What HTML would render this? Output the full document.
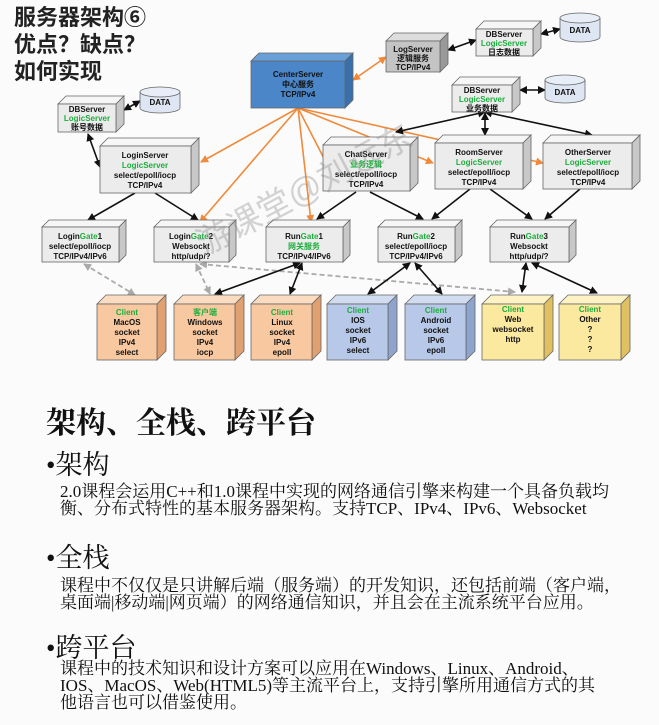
<!DOCTYPE html>
<html><head><meta charset="utf-8"><style>
body{margin:0;width:659px;height:725px;overflow:hidden;background:#fbfbfb;position:relative;font-family:"Liberation Sans","Noto Sans CJK SC",sans-serif}
.t{position:absolute;left:14px;font-size:22px;font-weight:bold;color:#222;line-height:27px;top:4px}
svg{position:absolute;left:0;top:0}
svg text{font-family:"Liberation Sans","Noto Sans CJK SC",sans-serif;font-weight:bold;font-size:8px;text-anchor:middle;fill:#111}
.g{fill:#1cae3c}
.s{position:absolute;font-family:"Liberation Serif","Noto Serif CJK SC",serif;color:#111;white-space:nowrap}
.h1{left:46px;top:398px;font-size:30px;font-weight:bold}
.h2{left:46px;font-size:27px;line-height:30px}
.b{left:60px;font-size:17px;line-height:17px}
</style></head><body>
<div class="t">服务器架构⑥<br>优点？缺点？<br>如何实现</div>
<svg width="659" height="380" viewBox="0 0 659 380">
<defs>
<marker id="ab" markerWidth="8" markerHeight="8" refX="7" refY="4" orient="auto-start-reverse" markerUnits="userSpaceOnUse"><path d="M0,0L8,4L0,8z" fill="#111"/></marker>
<marker id="ao" markerWidth="8" markerHeight="8" refX="7" refY="4" orient="auto-start-reverse" markerUnits="userSpaceOnUse"><path d="M0,0L8,4L0,8z" fill="#f08a3a"/></marker>
<marker id="ag" markerWidth="8" markerHeight="8" refX="7" refY="4" orient="auto-start-reverse" markerUnits="userSpaceOnUse"><path d="M0,0L8,4L0,8z" fill="#aaa"/></marker>
</defs>
<!-- orange lines -->
<g stroke="#f08a3a" stroke-width="1.6" fill="none" marker-end="url(#ao)">
<line x1="298" y1="108" x2="201" y2="162"/>
<line x1="298" y1="108" x2="200" y2="222"/>
<line x1="298" y1="108" x2="311" y2="222"/>
<line x1="298" y1="108" x2="330" y2="170"/>
<line x1="298" y1="108" x2="433" y2="163"/>
<line x1="298" y1="108" x2="543" y2="163"/>
<line x1="353" y1="80" x2="386" y2="57" marker-start="url(#ao)"/>
</g>
<!-- black lines -->
<g stroke="#111" stroke-width="1.6" fill="none" marker-end="url(#ab)" marker-start="url(#ab)">
<line x1="124" y1="110" x2="140" y2="101"/>
<line x1="88" y1="134" x2="100" y2="167"/>
<line x1="448" y1="50" x2="476" y2="40"/>
<line x1="541" y1="34" x2="560" y2="29"/>
<line x1="520" y1="90" x2="545" y2="90"/>
<line x1="485" y1="112" x2="396" y2="132"/>
<line x1="485" y1="113" x2="485" y2="135"/>
<line x1="485" y1="112" x2="592" y2="135"/>
</g>
<g stroke="#111" stroke-width="1.6" fill="none" marker-end="url(#ab)">
<line x1="135" y1="193" x2="88" y2="220"/>
<line x1="155" y1="193" x2="198" y2="220"/>
<line x1="356" y1="192" x2="317" y2="219"/>
<line x1="370" y1="192" x2="423" y2="219"/>
<line x1="470" y1="189" x2="432" y2="219"/>
<line x1="490" y1="189" x2="532" y2="219"/>
<line x1="580" y1="189" x2="545" y2="219"/>
</g>
<g stroke="#aaa" stroke-width="1.8" stroke-dasharray="5,3" fill="none" marker-end="url(#ag)" marker-start="url(#ag)">
<line x1="84" y1="264" x2="135" y2="295"/>
<line x1="196" y1="264" x2="210" y2="294"/>
<line x1="200" y1="264" x2="515" y2="292"/>
</g>
<g stroke="#111" stroke-width="1.6" fill="none" marker-end="url(#ab)" marker-start="url(#ab)">
<line x1="300" y1="263" x2="215" y2="294"/>
<line x1="302" y1="263" x2="290" y2="294"/>
<line x1="410" y1="263" x2="368" y2="294"/>
<line x1="415" y1="263" x2="442" y2="294"/>
<line x1="526" y1="263" x2="522" y2="292"/>
<line x1="532" y1="263" x2="597" y2="293"/>
</g>
<!-- boxes -->
<g stroke="#666" stroke-width="0.8">
<!-- Center -->
<polygon points="251,61 259,53 353,53 345,61" fill="#6aa0d8"/><polygon points="345,61 353,53 353,100 345,108" fill="#3a70aa"/><rect x="251" y="61" width="94" height="47" fill="#4a86c8"/>
<!-- LogServer -->
<polygon points="386,41 394,33 448,33 440,41" fill="#ddd"/><polygon points="440,41 448,33 448,64 440,72" fill="#999"/><rect x="386" y="41" width="54" height="31" fill="#c4c4c4"/>
<!-- DB top -->
<polygon points="476,29 484,21 541,21 533,29" fill="#f6f6f6"/><polygon points="533,29 541,21 541,48 533,56" fill="#c8c8c8"/><rect x="476" y="29" width="57" height="27" fill="#ececec"/>
<!-- DB mid -->
<polygon points="452,85 460,77 520,77 512,85" fill="#f6f6f6"/><polygon points="512,85 520,77 520,104 512,112" fill="#c8c8c8"/><rect x="452" y="85" width="60" height="27" fill="#ececec"/>
<!-- DB left -->
<polygon points="58,104 66,96 124,96 116,104" fill="#f6f6f6"/><polygon points="116,104 124,96 124,124 116,132" fill="#c8c8c8"/><rect x="58" y="104" width="58" height="28" fill="#ececec"/>
<!-- LoginServer -->
<polygon points="100,146 108,138 199,138 191,146" fill="#f6f6f6"/><polygon points="191,146 199,138 199,185 191,193" fill="#c8c8c8"/><rect x="100" y="146" width="91" height="47" fill="#ececec"/>
<!-- Chat -->
<polygon points="323,145 331,137 418,137 410,145" fill="#f6f6f6"/><polygon points="410,145 418,137 418,183 410,191" fill="#c8c8c8"/><rect x="323" y="145" width="87" height="46" fill="#ececec"/>
<!-- Room -->
<polygon points="435,143 443,135 531,135 523,143" fill="#f6f6f6"/><polygon points="523,143 531,135 531,181 523,189" fill="#c8c8c8"/><rect x="435" y="143" width="88" height="46" fill="#ececec"/>
<!-- Other -->
<polygon points="543,143 551,135 640,135 632,143" fill="#f6f6f6"/><polygon points="632,143 640,135 640,181 632,189" fill="#c8c8c8"/><rect x="543" y="143" width="89" height="46" fill="#ececec"/>
<!-- Gates -->
<polygon points="42,227 49,220 126,220 119,227" fill="#f6f6f6"/><polygon points="119,227 126,220 126,255 119,262" fill="#c8c8c8"/><rect x="42" y="227" width="77" height="35" fill="#ececec"/>
<polygon points="154,227 161,220 236,220 229,227" fill="#f6f6f6"/><polygon points="229,227 236,220 236,255 229,262" fill="#c8c8c8"/><rect x="154" y="227" width="75" height="35" fill="#ececec"/>
<polygon points="266,227 273,220 350,220 343,227" fill="#f6f6f6"/><polygon points="343,227 350,220 350,255 343,262" fill="#c8c8c8"/><rect x="266" y="227" width="77" height="35" fill="#ececec"/>
<polygon points="378,227 385,220 462,220 455,227" fill="#f6f6f6"/><polygon points="455,227 462,220 462,255 455,262" fill="#c8c8c8"/><rect x="378" y="227" width="77" height="35" fill="#ececec"/>
<polygon points="490,227 497,220 576,220 569,227" fill="#f6f6f6"/><polygon points="569,227 576,220 576,255 569,262" fill="#c8c8c8"/><rect x="490" y="227" width="79" height="35" fill="#ececec"/>
<!-- Clients -->
<polygon points="97,304 106,295 166,295 157,304" fill="#fbdcc0"/><polygon points="157,304 166,295 166,351 157,360" fill="#e0a070"/><rect x="97" y="304" width="60" height="56" fill="#f8c8a0"/>
<polygon points="174,304 183,295 244,295 235,304" fill="#fbdcc0"/><polygon points="235,304 244,295 244,351 235,360" fill="#e0a070"/><rect x="174" y="304" width="61" height="56" fill="#f8c8a0"/>
<polygon points="251,304 260,295 321,295 312,304" fill="#fbdcc0"/><polygon points="312,304 321,295 321,351 312,360" fill="#e0a070"/><rect x="251" y="304" width="61" height="56" fill="#f8c8a0"/>
<polygon points="327,304 336,295 397,295 388,304" fill="#d2dcf0"/><polygon points="388,304 397,295 397,351 388,360" fill="#8ea4cc"/><rect x="327" y="304" width="61" height="56" fill="#b8c8e8"/>
<polygon points="405,304 414,295 475,295 466,304" fill="#d2dcf0"/><polygon points="466,304 475,295 475,351 466,360" fill="#8ea4cc"/><rect x="405" y="304" width="61" height="56" fill="#b8c8e8"/>
<polygon points="482,304 491,295 553,295 544,304" fill="#fdf2c4"/><polygon points="544,304 553,295 553,351 544,360" fill="#e0c060"/><rect x="482" y="304" width="62" height="56" fill="#fbe9a0"/>
<polygon points="559,304 568,295 630,295 621,304" fill="#fdf2c4"/><polygon points="621,304 630,295 630,351 621,360" fill="#e0c060"/><rect x="559" y="304" width="62" height="56" fill="#fbe9a0"/>
<!-- cylinders -->
<path d="M140,92 v16 a20,5 0 0 0 40,0 v-16" fill="#dde6f2"/><ellipse cx="160" cy="92" rx="20" ry="5" fill="#e8eef8"/>
<path d="M560,18 v19 a20,5 0 0 0 40,0 v-19" fill="#dde6f2"/><ellipse cx="580" cy="18" rx="20" ry="5" fill="#e8eef8"/>
<path d="M545,80 v18 a20,5 0 0 0 40,0 v-18" fill="#dde6f2"/><ellipse cx="565" cy="80" rx="20" ry="5" fill="#e8eef8"/>
</g>
<text x="160" y="105">DATA</text><text x="580" y="33">DATA</text><text x="565" y="95">DATA</text>
<text x="298" y="77" fill="#111">CenterServer</text><text x="298" y="87">中心服务</text><text x="298" y="97">TCP/IPv4</text>
<text x="413" y="52">LogServer</text><text x="413" y="61">逻辑服务</text><text x="413" y="70">TCP/IPv4</text>
<text x="504" y="37">DBServer</text><text x="504" y="46" class="g">LogicServer</text><text x="504" y="55">日志数据</text>
<text x="482" y="93">DBServer</text><text x="482" y="102" class="g">LogicServer</text><text x="482" y="111">业务数据</text>
<text x="87" y="112">DBServer</text><text x="87" y="121" class="g">LogicServer</text><text x="87" y="130">账号数据</text>
<text x="145" y="158">LoginServer</text><text x="145" y="168" class="g">LogicServer</text><text x="145" y="178">select/epoll/iocp</text><text x="145" y="188">TCP/IPv4</text>
<text x="366" y="157">ChatServer</text><text x="366" y="167" class="g">业务逻辑</text><text x="366" y="177">select/epoll/iocp</text><text x="366" y="187">TCP/IPv4</text>
<text x="479" y="155">RoomServer</text><text x="479" y="165" class="g">LogicServer</text><text x="479" y="175">select/epoll/iocp</text><text x="479" y="185">TCP/IPv4</text>
<text x="588" y="155">OtherServer</text><text x="588" y="165" class="g">LogicServer</text><text x="588" y="175">select/epoll/iocp</text><text x="588" y="185">TCP/IPv4</text>
<text x="80" y="239">Login<tspan class="g">Gate</tspan>1</text><text x="80" y="249">select/epoll/iocp</text><text x="80" y="259">TCP/IPv4/IPv6</text>
<text x="191" y="239">Login<tspan class="g">Gate</tspan>2</text><text x="191" y="249">Websockt</text><text x="191" y="259">http/udp/?</text>
<text x="304" y="239">Run<tspan class="g">Gate</tspan>1</text><text x="304" y="249" class="g">网关服务</text><text x="304" y="259">TCP/IPv4/IPv6</text>
<text x="416" y="239">Run<tspan class="g">Gate</tspan>2</text><text x="416" y="249">select/epoll/iocp</text><text x="416" y="259">TCP/IPv4/IPv6</text>
<text x="529" y="239">Run<tspan class="g">Gate</tspan>3</text><text x="529" y="249">Websockt</text><text x="529" y="259">http/udp/?</text>
<g>
<text x="127" y="315" class="g">Client</text><text x="127" y="325">MacOS</text><text x="127" y="335">socket</text><text x="127" y="345">IPv4</text><text x="127" y="355">select</text>
<text x="205" y="315" class="g">客户端</text><text x="205" y="325">Windows</text><text x="205" y="335">socket</text><text x="205" y="345">IPv4</text><text x="205" y="355">iocp</text>
<text x="282" y="315" class="g">Client</text><text x="282" y="325">Linux</text><text x="282" y="335">socket</text><text x="282" y="345">IPv4</text><text x="282" y="355">epoll</text>
<text x="358" y="313" class="g">Client</text><text x="358" y="323">IOS</text><text x="358" y="333">socket</text><text x="358" y="343">IPv6</text><text x="358" y="353">select</text>
<text x="436" y="313" class="g">Client</text><text x="436" y="323">Android</text><text x="436" y="333">socket</text><text x="436" y="343">IPv6</text><text x="436" y="353">epoll</text>
<text x="513" y="312" class="g">Client</text><text x="513" y="322">Web</text><text x="513" y="332">websocket</text><text x="513" y="342">http</text>
<text x="590" y="312" class="g">Client</text><text x="590" y="322">Other</text><text x="590" y="332">?</text><text x="590" y="342">?</text><text x="590" y="352">?</text>
</g>
<text x="310" y="200" transform="rotate(-28 310 200)" style="font-size:34px;fill:#888;opacity:0.35;font-weight:normal">游课堂@刘远东</text>
</svg>
<div class="s h1">架构、全栈、跨平台</div>
<div class="s h2" style="top:450px">•架构</div>
<div class="s b" style="top:483px">2.0课程会运用C++和1.0课程中实现的网络通信引擎来构建一个具备负载均</div>
<div class="s b" style="top:500px">衡、分布式特性的基本服务器架构。支持TCP、IPv4、IPv6、Websocket</div>
<div class="s h2" style="top:543px">•全栈</div>
<div class="s b" style="top:577px">课程中不仅仅是只讲解后端（服务端）的开发知识，还包括前端（客户端，</div>
<div class="s b" style="top:594px">桌面端|移动端|网页端）的网络通信知识，并且会在主流系统平台应用。</div>
<div class="s h2" style="top:633px">•跨平台</div>
<div class="s b" style="top:660px">课程中的技术知识和设计方案可以应用在Windows、Linux、Android、</div>
<div class="s b" style="top:677px">IOS、MacOS、Web(HTML5)等主流平台上，支持引擎所用通信方式的其</div>
<div class="s b" style="top:694px">他语言也可以借鉴使用。</div>
</body></html>
